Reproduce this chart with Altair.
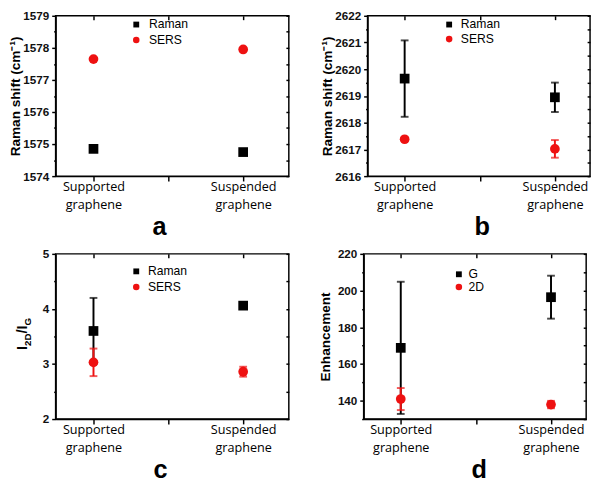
import altair as alt
import pandas as pd

# ---------------- data ----------------
categories = ["Supported graphene", "Suspended graphene"]
cat_pos = [1, 2]

a_names = ["Raman", "SERS"]
a_raman = [1574.85, 1574.75]
a_raman_err = [0.0, 0.0]
a_sers = [1577.65, 1577.95]
a_sers_err = [0.0, 0.0]

b_names = ["Raman", "SERS"]
b_raman = [2619.65, 2618.95]
b_raman_err = [1.43, 0.55]
b_sers = [2617.38, 2617.02]
b_sers_err = [0.06, 0.33]

c_names = ["Raman", "SERS"]
c_raman = [3.60, 4.06]
c_raman_err = [0.60, 0.03]
c_sers = [3.03, 2.86]
c_sers_err = [0.25, 0.09]

d_names = ["G", "2D"]
d_g = [168.8, 196.4]
d_g_err = [36.0, 11.7]
d_2d = [140.9, 137.9]
d_2d_err = [6.0, 2.0]

a_ticks = [1574, 1575, 1576, 1577, 1578, 1579]
b_ticks = [2616, 2617, 2618, 2619, 2620, 2621, 2622]
c_ticks = [2, 3, 4, 5]
d_ticks = [140, 160, 180, 200, 220]

panel_letters = ["a", "b", "c", "d"]

# ---------------- style ----------------
BLACK = "#000000"
RED = "#ee1111"
FONT = "Liberation Sans"
CAT_FONT = "Open Sans"


def make_df(names, s1, e1, s2, e2):
    rows = []
    for name, vals, errs in [(names[0], s1, e1), (names[1], s2, e2)]:
        for x, v, e in zip(cat_pos, vals, errs):
            rows.append({"x": x, "series": name, "v": v, "lo": v - e, "hi": v + e, "err": e})
    return pd.DataFrame(rows)


def minor_of(ticks):
    return [(ticks[i] + ticks[i + 1]) / 2 for i in range(len(ticks) - 1)]


label_expr = (
    "datum.value == 1 ? ['" + "','".join(categories[0].split(" ")) + "'] : "
    "datum.value == 2 ? ['" + "','".join(categories[1].split(" ")) + "'] : ''"
)


def panel(df, names, xdom, ydom, yticks, ytitle, letter, W, H, leg, letter_xy,
          title_pad=0, yfmt="d"):
    yminor = minor_of(yticks)
    if ydom[0] < yticks[0]:
        yminor = [yticks[0] - (yticks[1] - yticks[0]) / 2] + yminor
    xs = alt.Scale(domain=xdom, nice=False, zero=False)
    ys = alt.Scale(domain=ydom, nice=False, zero=False)
    color = alt.Color("series:N", scale=alt.Scale(domain=names, range=[BLACK, RED]), legend=None)
    shape = alt.Shape("series:N", scale=alt.Scale(domain=names, range=["square", "circle"]), legend=None)
    base = alt.Chart(df)

    main_axes = base.mark_point(opacity=0).encode(
        x=alt.X("x:Q", scale=xs, axis=alt.Axis(
            orient="bottom", values=[1, 1.5, 2], labelExpr=label_expr, title=None,
            tickSize=5, grid=False, labelFont=CAT_FONT, labelFontSize=13, labelColor="#000",
            labelPadding=0, labelLineHeight=18, labelBaseline="top")),
        y=alt.Y("v:Q", scale=ys, axis=alt.Axis(
            orient="left", values=yticks, format=yfmt, title=ytitle, grid=False, tickSize=4,
            labelFont=FONT, labelFontSize=12, labelFontWeight="bold", labelColor="#111",
            labelPadding=3, titleFont=FONT, titleFontSize=14, titleFontWeight="bold",
            titleColor="#000", titlePadding=title_pad)),
    )
    inner = base.mark_point(opacity=0).encode(
        x=alt.X("x:Q", scale=xs, axis=alt.Axis(
            orient="bottom", offset=-H, values=[1, 1.5, 2], labels=False, domain=False,
            tickSize=4, title=None, grid=False)),
        y=alt.Y("v:Q", scale=ys, axis=alt.Axis(
            orient="left", offset=-W, values=yticks + yminor, labels=False, domain=False,
            tickSize=3, title=None, grid=False)),
    )
    minor = base.mark_point(opacity=0).encode(
        x=alt.X("x:Q", scale=xs, axis=None),
        y=alt.Y("v:Q", scale=ys, axis=alt.Axis(
            orient="left", values=yminor, labels=False, domain=False, tickSize=2,
            title=None, grid=False)),
    )

    err_df = df[df["err"] > 0]
    rules = alt.Chart(err_df).mark_rule(strokeWidth=2).encode(
        x=alt.X("x:Q", scale=xs, axis=None),
        y=alt.Y("lo:Q", scale=ys, axis=None), y2="hi:Q", color=color)
    cap_lo = alt.Chart(err_df).mark_tick(orient="horizontal", size=8, thickness=2).encode(
        x=alt.X("x:Q", scale=xs, axis=None), y=alt.Y("lo:Q", scale=ys, axis=None), color=color)
    cap_hi = alt.Chart(err_df).mark_tick(orient="horizontal", size=8, thickness=2).encode(
        x=alt.X("x:Q", scale=xs, axis=None), y=alt.Y("hi:Q", scale=ys, axis=None), color=color)

    pts = base.mark_point(filled=True, size=100, opacity=1).encode(
        x=alt.X("x:Q", scale=xs, axis=None), y=alt.Y("v:Q", scale=ys, axis=None),
        color=color, shape=shape)

    layers = [main_axes, inner, minor, rules, cap_lo, cap_hi, pts]

    # legend
    sx, tx, y1, y2 = leg
    for name, yy, sz in [(names[0], y1, 36), (names[1], y2, 45)]:
        ldf = pd.DataFrame({"series": [name]})
        layers.append(alt.Chart(ldf).mark_point(filled=True, size=sz, opacity=1).encode(
            x=alt.value(sx), y=alt.value(yy), color=color, shape=shape))
        layers.append(alt.Chart(ldf).mark_text(
            align="left", baseline="middle", font=FONT, fontSize=12.5, color="#000").encode(
            x=alt.value(tx), y=alt.value(yy), text="series:N"))

    # panel letter
    lx, ly = letter_xy
    layers.append(alt.Chart(pd.DataFrame({"t": [letter]})).mark_text(
        align="center", baseline="middle", font=FONT, fontSize=26, fontWeight="bold",
        color="#000").encode(x=alt.value(lx), y=alt.value(ly), text="t:N"))

    return alt.layer(*layers).resolve_axis(x="independent", y="independent").properties(
        width=W, height=H)


def c_title():
    # I_2D / I_G rotated title built from text pieces (main 15px, subscript 10px)
    pieces = [("I", 15, -34, 99), ("2D", 10, -28, 94.8), ("/", 15, -34, 82),
              ("I", 15, -34, 77.8), ("G", 10, -28, 73.6)]
    out = []
    for t, fs, px, py in pieces:
        out.append(alt.Chart(pd.DataFrame({"t": [t]})).mark_text(
            angle=270, align="left", baseline="middle", font=FONT, fontSize=fs,
            fontWeight="bold", color="#000").encode(
            x=alt.value(px), y=alt.value(py), text="t:N"))
    return out


W1, W2 = 240, 229
H1, H2 = 165, 170

pa = panel(make_df(a_names, a_raman, a_raman_err, a_sers, a_sers_err), a_names,
           [0.747, 2.305], [1574, 1579], a_ticks, "Raman shift (cm⁻¹)", panel_letters[0], W1, H1,
           (83, 96, 9, 25), (107, 218))
pb = panel(make_df(b_names, b_raman, b_raman_err, b_sers, b_sers_err), b_names,
           [0.753, 2.234], [2616, 2622], b_ticks, "Raman shift (cm⁻¹)", panel_letters[1], W2, H1,
           (84, 96, 9, 24), (118, 218))
pc_core = panel(make_df(c_names, c_raman, c_raman_err, c_sers, c_sers_err), c_names,
                [0.747, 2.305], [2, 5], c_ticks, None, panel_letters[2], W1, H2,
                (83, 95, 18, 34), (108, 223))
pc = alt.layer(pc_core, *c_title()).properties(width=W1, height=H2)
pd_ = panel(make_df(d_names, d_g, d_g_err, d_2d, d_2d_err), d_names,
            [0.753, 2.234], [130, 220], d_ticks, "Enhancement", panel_letters[3], W2, H2,
            (98, 108, 21, 34), (119, 223), title_pad=5)

chart = alt.vconcat(
    alt.hconcat(pa, pb, spacing=30),
    alt.hconcat(pc, pd_, spacing=28),
    spacing=6,
).configure_view(stroke="black", strokeWidth=1.5).configure_axis(
    domainColor="black", domainWidth=1.5, tickColor="black", tickWidth=1.5
).properties(padding={"left": 0, "top": -6, "right": 0, "bottom": 0}, background="white")

chart.save("out.html", embed_options={"renderer": "svg", "actions": False})
